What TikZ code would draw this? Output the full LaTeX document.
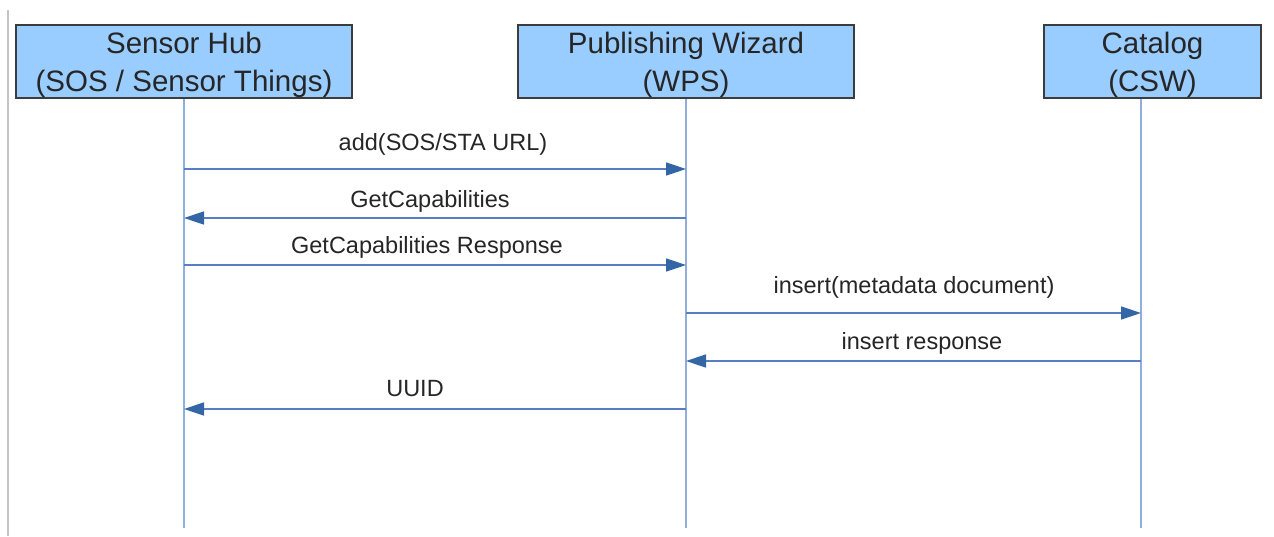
\documentclass[tikz,border=0pt]{standalone}
\usepackage{fontspec}
\setmainfont{Liberation Sans}
\usetikzlibrary{arrows.meta}
\definecolor{boxfill}{HTML}{99CCFF}
\definecolor{boxline}{HTML}{3C3C3C}
\definecolor{lifecol}{HTML}{8FAEDB}
\definecolor{msgcol}{HTML}{5680BF}
\definecolor{tipcol}{HTML}{3465A4}
\definecolor{edgegray}{HTML}{C4C4C4}
\begin{document}
\begin{tikzpicture}[x=1pt,y=-1pt,
  actor/.style={draw=boxline,line width=1.4pt,fill=boxfill,inner sep=0pt,
    minimum height=73pt,align=center,text depth=0pt,
    font=\fontsize{29.5}{38}\selectfont,text=black!85},
  lifeline/.style={draw=lifecol,line width=1.6pt},
  msg/.style={draw=msgcol,line width=1.5pt,
    -{Triangle[length=20pt,width=13pt,color=tipcol,fill=tipcol]}},
  msglabel/.style={anchor=base,inner sep=0pt,font=\fontsize{23.5}{28}\selectfont,text=black!85}]
\useasboundingbox (0,0) rectangle (1274,536);
\fill[white] (0,0) rectangle (1274,536);

% page edge on the left
\coordinate (edgetop) at (8,10);
\coordinate (edgebot) at (8,536);
\draw[edgegray,line width=2pt] (edgetop) -- (edgebot);

% participants
\node[actor,minimum width=336pt] (hub) at (184,61.5) {Sensor Hub\\(SOS / Sensor Things)};
\node[actor,minimum width=336pt] (wps) at (686,61.5) {Publishing Wizard\\(WPS)};
\node[actor,minimum width=217pt] (csw) at (1152.5,61.5) {Catalog\\(CSW)};

% lifeline anchors
\coordinate (hubtop) at (hub.south);
\coordinate (wpstop) at (wps.south);
\coordinate (cswtop) at ([xshift=-11.5pt]csw.south);
\coordinate (hubend) at (184,528);
\coordinate (wpsend) at (686,528);
\coordinate (cswend) at (1141,528);

\draw[lifeline] (hubtop) -- (hubend);
\draw[lifeline] (wpstop) -- (wpsend);
\draw[lifeline] (cswtop) -- (cswend);

% message end points on the lifelines
\coordinate (h1) at (184,169);  \coordinate (w1) at (686,169);
\coordinate (h2) at (184,218);  \coordinate (w2) at (686,218);
\coordinate (h3) at (184,265);  \coordinate (w3) at (686,265);
\coordinate (w4) at (686,313);  \coordinate (c4) at (1141,313);
\coordinate (w5) at (686,361);  \coordinate (c5) at (1141,361);
\coordinate (h6) at (184,409);  \coordinate (w6) at (686,409);

% messages
\draw[msg] (h1) -- (w1);
\draw[msg] (w2) -- (h2);
\draw[msg] (h3) -- (w3);
\draw[msg] (w4) -- (c4);
\draw[msg] (c5) -- (w5);
\draw[msg] (w6) -- (h6);

% message labels
\node[msglabel] (l1) at (443,150) {add(SOS/STA URL)};
\node[msglabel] (l2) at (430,207) {GetCapabilities};
\node[msglabel] (l3) at (427,253.5) {GetCapabilities Response};
\node[msglabel] (l4) at (914,293) {insert(metadata document)};
\node[msglabel] (l5) at (922,349) {insert response};
\node[msglabel] (l6) at (415,396.5) {UUID};
\end{tikzpicture}
\end{document}
